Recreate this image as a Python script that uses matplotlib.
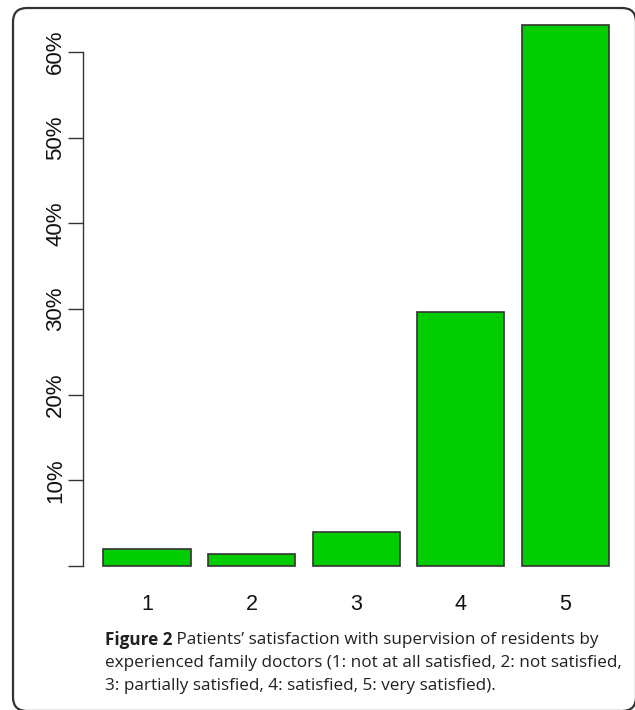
import matplotlib
matplotlib.use("Agg")
import matplotlib.pyplot as plt
from matplotlib.patches import FancyBboxPatch
from matplotlib.ticker import FuncFormatter

categories = ["1", "2", "3", "4", "5"]
values = [2.0, 1.4, 4.0, 29.6, 63.1]
yticks = [0, 10, 20, 30, 40, 50, 60]
caption_bold = "Figure 2"
caption_lines = [
    " Patients\u2019 satisfaction with supervision of residents by",
    "experienced family doctors (1: not at all satisfied, 2: not satisfied,",
    "3: partially satisfied, 4: satisfied, 5: very satisfied).",
]

W, H = 635, 710
DPI = 100
fig = plt.figure(figsize=(W / DPI, H / DPI), dpi=DPI)

def fx(px):
    return px / W

def fy(py):
    return 1 - py / H

# frame
frame = FancyBboxPatch((fx(13), fy(711)), fx(636) - fx(13), fy(8) - fy(711),
                       boxstyle="round,pad=0,rounding_size=0.022",
                       transform=fig.transFigure, fill=False,
                       edgecolor="#333333", linewidth=1.6, mutation_aspect=W / H)
fig.patches.append(frame)

# axes
left, right, top, bottom = 83, 625, 15, 580
ax = fig.add_axes([fx(left), fy(bottom), fx(right) - fx(left), fy(top) - fy(bottom)])
ax.patch.set_alpha(0)

pitch = 104.6
x0 = 1 - (147 - left) / pitch
x1 = x0 + (right - left) / pitch
ax.set_xlim(x0, x1)
ppu = (566 - 52) / 60.0
ax.set_ylim(-(bottom - 566) / ppu, (566 - top) / ppu)

xs = list(range(1, len(categories) + 1))
ax.bar(xs, values, width=0.833, color="#00CC00", edgecolor="#333333", linewidth=1.2)

for s in ["top", "right", "bottom"]:
    ax.spines[s].set_visible(False)
ax.spines["left"].set_bounds(0, 60)
ax.spines["left"].set_linewidth(1.0)
ax.spines["left"].set_color("#333333")

ax.set_yticks(yticks)
ax.yaxis.set_major_formatter(FuncFormatter(lambda v, p: "" if v == 0 else f"{int(v)}%"))
ax.tick_params(axis="y", direction="out", length=11, width=1.0, color="#333333",
               pad=1, labelsize=16, labelrotation=90, labelcolor="#111111")
for lab in ax.get_yticklabels():
    lab.set_family("Liberation Sans")
    lab.set_va("center")

ax.set_xticks([])
for x, c in zip(xs, categories):
    ax.text(x, -(605 - 566) / ppu, c, ha="center", va="center", fontsize=15.5,
            family="Liberation Sans", color="#111111")

# caption
cap_font = "Open Sans"
cap_size = 12.3
cap_color = "#231f20"
t = fig.text(fx(105), fy(640), caption_bold, fontsize=cap_size, fontweight="bold",
             family=cap_font, color=cap_color, ha="left", va="center")
fig.canvas.draw()
bb = t.get_window_extent()
fig.text(bb.x1 / W, fy(640), caption_lines[0], fontsize=cap_size, family=cap_font,
         fontweight="medium", color=cap_color, ha="left", va="center")
fig.text(fx(105), fy(663), caption_lines[1], fontsize=cap_size, family=cap_font,
         fontweight="medium", color=cap_color, ha="left", va="center")
fig.text(fx(105), fy(686), caption_lines[2], fontsize=cap_size, family=cap_font,
         fontweight="medium", color=cap_color, ha="left", va="center")

fig.savefig("out.png", dpi=DPI)
